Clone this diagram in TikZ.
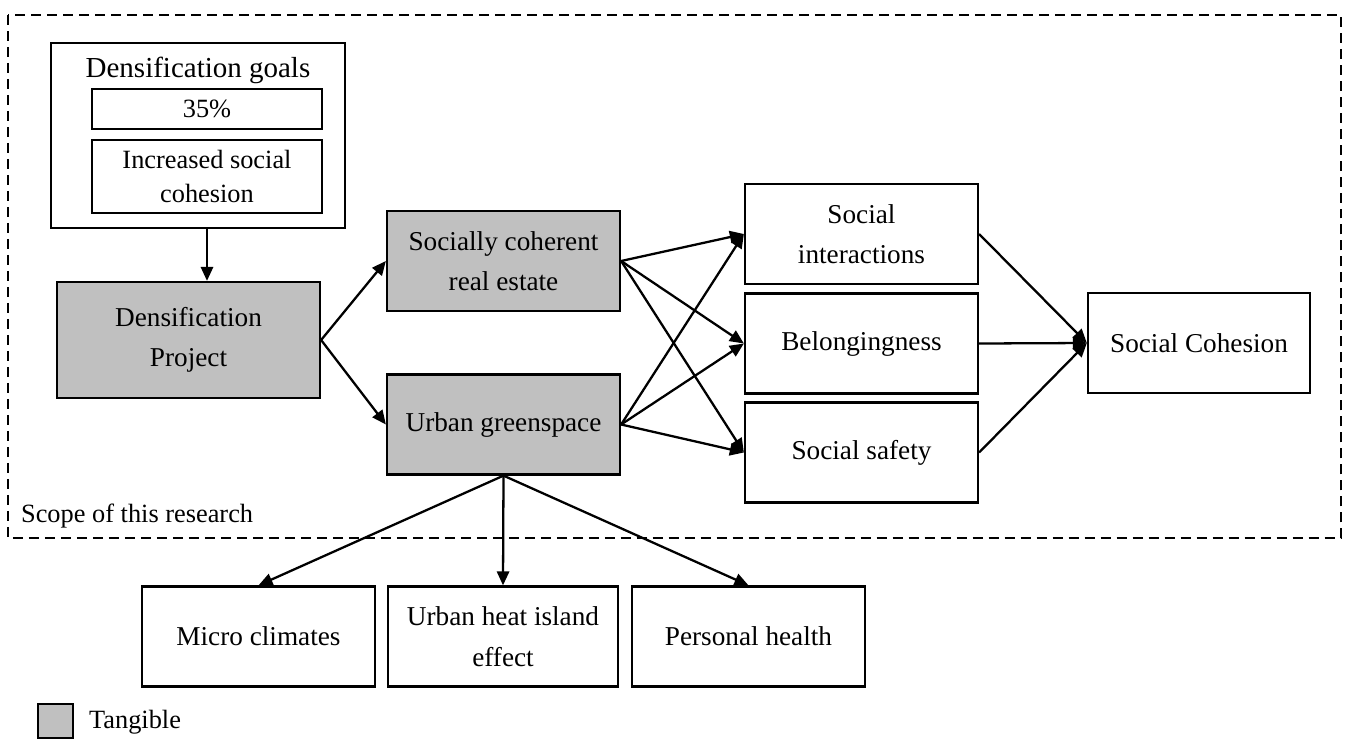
\documentclass[tikz,border=0pt]{standalone}
\usepackage{fontspec}
\setmainfont{Liberation Serif}
\usetikzlibrary{arrows.meta, positioning}
\definecolor{tangiblegray}{RGB}{192,192,192}
\tikzset{
    box/.style={draw, line width=1.3pt, align=center, inner sep=2pt, font=\fontsize{15.5}{23}\selectfont, minimum width=4.66cm, minimum height=2cm},
    tangible/.style={box, fill=tangiblegray},
    smallbox/.style={draw, line width=1.3pt, align=center, inner sep=1pt, font=\fontsize{15}{19}\selectfont, minimum width=4.6cm}
}

\begin{document}
\begin{tikzpicture}[x=0.02cm, y=-0.02cm, >={Triangle[length=8pt, width=7pt]}, line width=1.3pt]
    \useasboundingbox (0,0) rectangle (1350,738);
    % scope of the research
    \draw[dash pattern=on 0.2cm off 0.12cm] (8,15) rectangle (1341,538);
    \node[anchor=west, inner sep=0pt, font=\fontsize{15}{18}\selectfont] (scope) at (20,516) {Scope of this research};

    % goals
    \node[draw, line width=1.3pt, minimum width=5.88cm, minimum height=3.7cm] (goals) at (198,135.5) {};
    \node[inner sep=0pt, font=\fontsize{16.5}{19}\selectfont] (goaltitle) at (198,70) {Densification goals};
    \node[smallbox, minimum height=0.8cm] (pct) at (207,109) {35\%};
    \node[smallbox, minimum height=1.46cm] (incr) at (207,176.5) {Increased social\\cohesion};

    % tangible nodes
    \node[tangible, minimum width=5.26cm, minimum height=2.32cm] (dproj) at (188.5,340) {Densification\\Project};
    \node[tangible] (scre) at (503.5,261) {Socially coherent\\real estate};
    \node[tangible] (ug) at (503.5,424.5) {Urban greenspace};

    % social aspects
    \node[box] (si) at (861.5,234) {Social\\interactions};
    \node[box] (bel) at (861.5,343.5) {Belongingness};
    \node[box] (ss) at (861.5,452.5) {Social safety};
    \node[box, minimum width=4.44cm] (sc) at (1199,343) {Social Cohesion};

    % side effects
    \node[box] (mc) at (258.5,636.5) {Micro climates};
    \node[box, minimum width=4.6cm] (uhi) at (503,636.5) {Urban heat island\\effect};
    \node[box] (ph) at (748.5,636.5) {Personal health};

    % legend
    \node[tangible, minimum width=0.7cm, minimum height=0.68cm] (legbox) at (55.5,721) {};
    \node[anchor=west, inner sep=0pt, font=\fontsize{15}{18}\selectfont] (legtext) at (88,722) {Tangible};

    % connectors
    \draw[->] (incr |- goals.south) -- (incr |- dproj.north);
    \draw[->] (dproj.east) -- (scre.west);
    \draw[->] (dproj.east) -- (ug.west);
    \foreach \t in {si, bel, ss} {
        \draw[->] (scre.east) -- (\t.west);
        \draw[->] (ug.east) -- (\t.west);
        \draw[->] (\t.east) -- (sc.west);
    }
    \foreach \t in {mc, uhi, ph}
        \draw[->] (ug.south) -- (\t.north);
\end{tikzpicture}
\end{document}
